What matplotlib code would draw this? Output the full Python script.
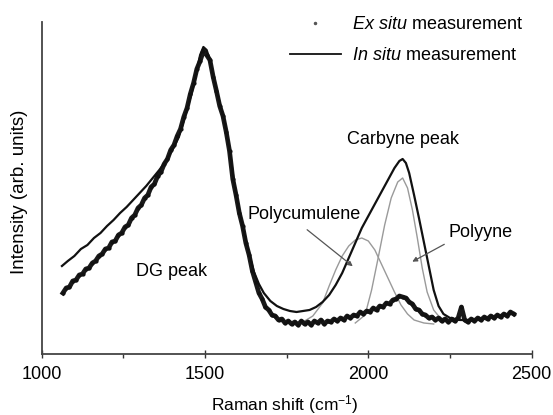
import numpy as np
import matplotlib
matplotlib.use("Agg")
import matplotlib.pyplot as plt
from matplotlib.lines import Line2D

plt.rcParams["font.family"] = ["Liberation Sans", "DejaVu Sans"]
plt.rcParams["mathtext.fontset"] = "custom"
plt.rcParams["mathtext.rm"] = "Liberation Sans"
plt.rcParams["mathtext.it"] = "Liberation Sans:italic"

# ex situ spectrum, sampled every 10 cm-1 from 1065 to 2445
ex_shift = np.arange(1065, 2446, 10)
ex_int = [61, 66, 67, 73, 74, 79, 80, 85, 86, 91, 93, 98, 100, 105, 106, 112, 113, 119, 121, 127,
          129, 136, 139, 146, 149, 156, 159, 167, 170, 178, 182, 190, 195, 204, 209, 218, 225, 237, 246, 260,
          271, 285, 293, 303, 299, 294, 277, 263, 248, 238, 222, 203, 175, 159, 141, 128, 111, 99, 83, 72,
          61, 55, 47, 44, 39, 38, 34, 35, 31, 33, 30, 32, 29, 33, 30, 32, 29, 33, 31, 34,
          30, 33, 32, 35, 33, 36, 34, 38, 36, 39, 38, 42, 40, 43, 42, 46, 44, 48, 47, 51,
          50, 54, 55, 58, 57, 56, 52, 50, 45, 44, 40, 39, 36, 37, 34, 36, 33, 35, 32, 35,
          33, 36, 47, 34, 32, 35, 33, 36, 34, 37, 35, 38, 36, 39, 37, 40, 38, 42, 40]

# in situ spectrum
in_shift = [1062, 1080, 1100, 1120, 1140, 1160, 1180, 1200, 1220, 1240, 1260, 1280, 1300, 1320,
            1340, 1360, 1380, 1400, 1420, 1440, 1460, 1475, 1485, 1495, 1505, 1515, 1530, 1545,
            1560, 1575, 1590, 1605, 1620, 1635, 1650, 1665, 1680, 1700, 1720, 1740, 1760, 1780,
            1800, 1820, 1840, 1860, 1880, 1900, 1920, 1940, 1960, 1980, 2000, 2020, 2040, 2060,
            2080, 2095, 2105, 2115, 2125, 2140, 2155, 2170, 2185, 2200, 2215, 2230, 2250, 2280,
            2320, 2360, 2400, 2445]
in_int = [88, 93, 98, 105, 109, 116, 121, 128, 134, 141, 147, 154, 161, 168,
          176, 184, 193, 204, 217, 239, 262, 284, 299, 307, 304, 294, 271, 251,
          232, 204, 169, 143, 121, 100, 82, 70, 61, 53, 48, 45, 43, 42,
          43, 44, 47, 52, 59, 69, 81, 96, 111, 126, 138, 150, 162, 174,
          186, 193, 195, 191, 181, 159, 136, 112, 88, 64, 48, 40, 36, 34,
          34, 36, 38, 41]

# fitted components
pc_shift = [1800, 1830, 1860, 1880, 1900, 1920, 1940, 1960, 1980, 2000, 2020, 2040, 2060,
            2080, 2100, 2120, 2140, 2170, 2200]
pc_int = [32, 38, 51, 68, 84, 98, 108, 114, 116, 113, 104, 90, 76, 62, 49, 40, 34, 31, 30]
py_shift = [1960, 1990, 2010, 2030, 2050, 2070, 2090, 2105, 2120, 2135, 2150, 2165, 2180,
            2200, 2220, 2250]
py_int = [31, 39, 64, 96, 129, 156, 172, 176, 166, 144, 116, 86, 62, 44, 36, 32]

fig = plt.figure(figsize=(5.53, 4.15), dpi=100)
ax = fig.add_axes([0.0754, 0.147, 0.886, 0.80])

ax.plot(pc_shift, pc_int, color="#9a9a9a", lw=1.0)
ax.plot(py_shift, py_int, color="#9a9a9a", lw=1.0)
ax.plot(ex_shift, ex_int, color="#1a1a1a", lw=3.4)
ax.plot(ex_shift, ex_int, ls="none", marker=".", ms=4, color="#111111")
ax.plot(in_shift, in_int, color="#111111", lw=1.6)

ax.set_xlim(1000, 2500)
ax.set_ylim(0, 332)
ax.set_xticks([1000, 1500, 2000, 2500])
ax.set_xticks([1250, 1750, 2250], minor=True)
ax.tick_params(axis="x", which="major", direction="inout", length=6, width=1.0,
               labelsize=13, pad=6, color="#333333")
ax.tick_params(axis="x", which="minor", direction="out", length=3, width=1.0, color="#333333")
ax.set_yticks([])
for s in ["top", "right"]:
    ax.spines[s].set_visible(False)
for s in ["left", "bottom"]:
    ax.spines[s].set_color("#444444")
    ax.spines[s].set_linewidth(1.3)

ax.set_xlabel(r"Raman shift (cm$^{-1}$)", fontsize=12.5)
ax.xaxis.set_label_coords(0.4965, -0.117)
ax.set_ylabel("Intensity (arb. units)", fontsize=13.5)
ax.yaxis.set_label_coords(-0.028, 0.49)

ax.text(2106, 214, "Carbyne peak", fontsize=13, ha="center", va="center")
ax.text(1803, 139, "Polycumulene", fontsize=13, ha="center", va="center")
ax.text(2345, 121, "Polyyne", fontsize=13, ha="center", va="center")
ax.text(1399, 82, "DG peak", fontsize=13, ha="center", va="center")
arrow = dict(arrowstyle="-|>", color="#555555", lw=0.9, mutation_scale=7)
ax.annotate("", xy=(1959, 86), xytext=(1806, 126), arrowprops=arrow)
ax.annotate("", xy=(2127, 91), xytext=(2240, 111), arrowprops=arrow)

handles = [Line2D([], [], ls="none", marker=".", ms=3, color="#555555"),
           Line2D([], [], color="#111111", lw=1.3)]
labels = [r"$\it{Ex\ situ}$ measurement", r"$\it{In\ situ}$ measurement"]
ax.legend(handles, labels, loc="upper left", bbox_to_anchor=(290 / 553, 1 - 16 / 415),
          bbox_transform=fig.transFigure, frameon=False, fontsize=13, handlelength=2.8,
          handletextpad=0.65, labelspacing=0.8, borderpad=0, borderaxespad=0, numpoints=1)

fig.savefig("out.png", dpi=100)
